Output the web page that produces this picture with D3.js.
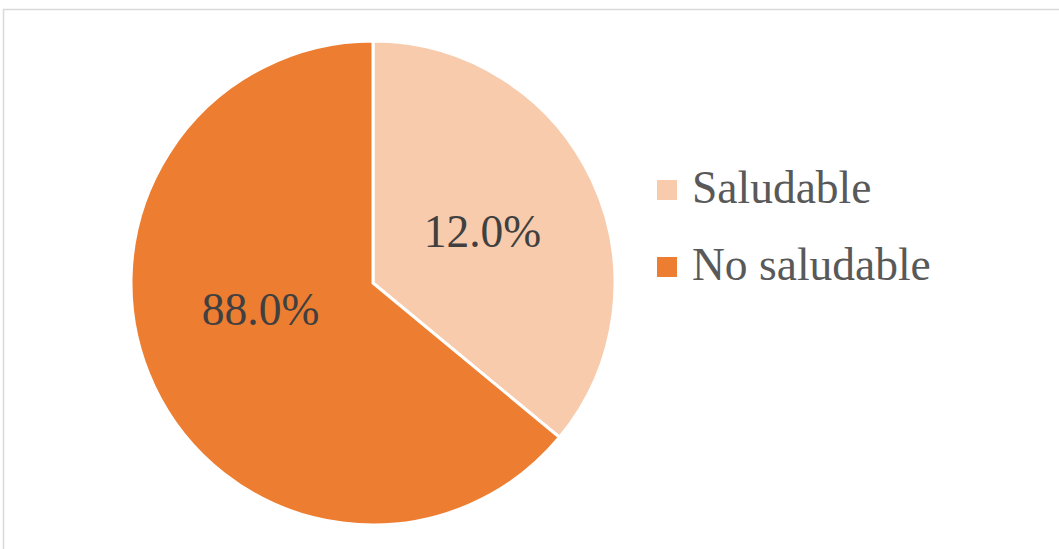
<!DOCTYPE html>
<html>
<head>
<meta charset="utf-8">
<script src="https://cdn.jsdelivr.net/npm/d3@7"></script>
<style>
  body { margin: 0; background: #fff; }
</style>
</head>
<body>
<div id="chart"></div>
<script>
// slice sizes as drawn in the picture, and the labels printed on them
var categories = ["Saludable", "No saludable"];
var sliceValues = [36.0, 64.0];
var sliceLabels = ["12.0%", "88.0%"];
var colors = ["#F8CBAD", "#ED7D31"];

var width = 1059,
height = 549,
cx = 373,
cy = 283,
radius = 242,
fontSize = 45.5;

var svg = d3.select("#chart")
.append("svg")
.attr("width", width)
.attr("height", height);

// chart area frame (only top and left edge fall inside the picture)
svg.append("rect")
.attr("x", 3.5)
.attr("y", 9.5)
.attr("width", width + 10)
.attr("height", height + 10)
.style("fill", "#fff")
.style("stroke", "#d9d9d9")
.style("stroke-width", 1.5);

var pie = d3.pie().sort(null).value(function(d) { return d; });
var arcs = pie(sliceValues);

var arc = d3.arc().innerRadius(0).outerRadius(radius);

var g = svg.append("g").attr("transform", `translate(${cx}, ${cy})`);

g.selectAll("path")
.data(arcs)
.enter()
.append("path")
.attr("d", arc)
.style("fill", function(d, i) { return colors[i]; })
.style("stroke", "#fff")
.style("stroke-width", 3)
.style("stroke-linejoin", "round");

var labelArc = d3.arc().innerRadius(radius * 0.5).outerRadius(radius * 0.5);

// the big slice's label sits a bit higher than its centroid, like excel puts it
function labelPos(d, i) {
  var c = labelArc.centroid(d);
  if (i == 1) c = [c[0] - 3, c[1] - 25];
  return c;
}

g.selectAll("text")
.data(arcs)
.enter()
.append("text")
.attr("x", function(d, i) { return labelPos(d, i)[0]; })
.attr("y", function(d, i) { return labelPos(d, i)[1]; })
.attr("dy", "0.35em")
.attr("text-anchor", "middle")
.attr("font-family", "Liberation Serif, Times New Roman, serif")
.attr("font-size", fontSize)
.attr("fill", "#404040")
.text(function(d, i) { return sliceLabels[i]; });

// legend
var legend = svg.append("g").attr("transform", "translate(657, 180)");

var item = legend.selectAll("g")
.data(categories)
.enter()
.append("g")
.attr("transform", function(d, i) { return `translate(0, ${i * 77})`; });

item.append("rect")
.attr("width", 20)
.attr("height", 20)
.style("fill", function(d, i) { return colors[i]; });

item.append("text")
.attr("x", 35)
.attr("y", 23)
.attr("font-family", "Liberation Serif, Times New Roman, serif")
.attr("font-size", fontSize)
.attr("fill", "#595959")
.text(function(d) { return d; });
</script>
</body>
</html>
